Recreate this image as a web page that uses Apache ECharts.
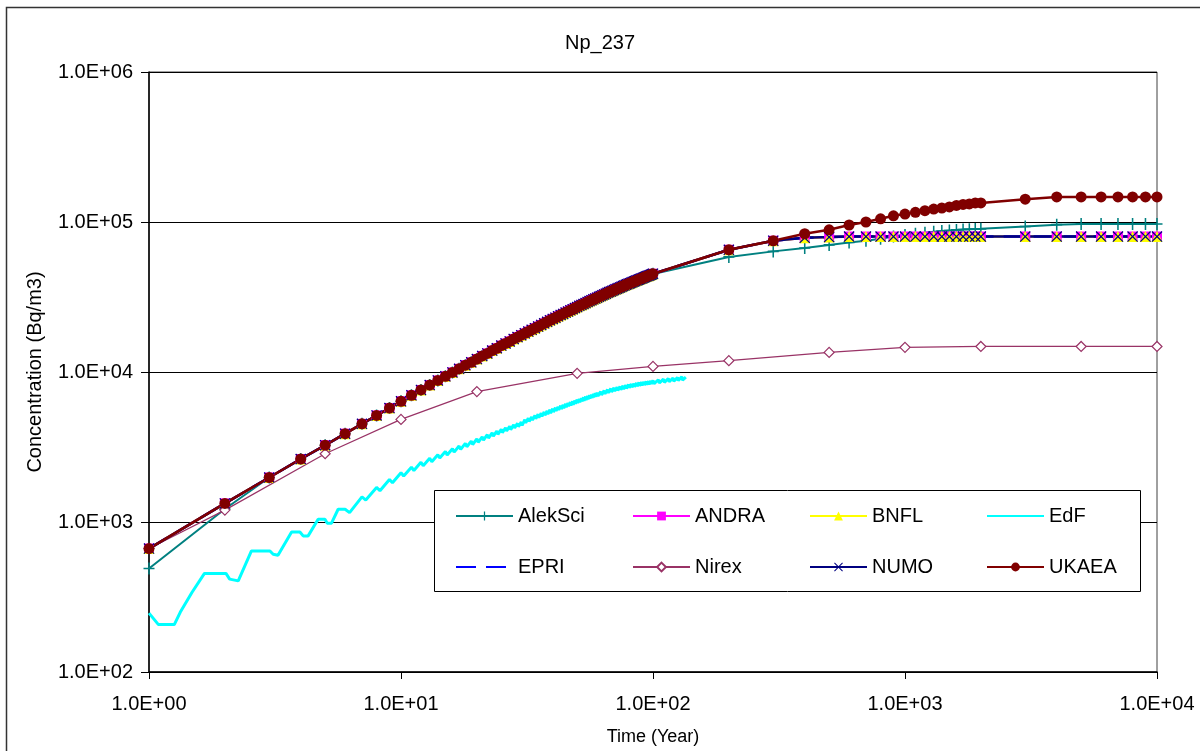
<!DOCTYPE html>
<html>
<head>
<meta charset="UTF-8">
<title>Np_237</title>
<script src="https://cdn.jsdelivr.net/npm/echarts@6/dist/echarts.min.js"></script>
<style>
  html, body { margin: 0; padding: 0; background: #fff; }
  #main { width: 1200px; height: 751px; }
</style>
</head>
<body>
<div id="main"></div>
<script type="text/javascript">
// time points (years) used by most models
var mainTime = [
  1, 2, 3, 4, 5, 6, 7, 8, 9, 10, 11, 12, 13, 14, 15, 16, 17, 18, 19, 20,
  21, 22, 23, 24, 25, 26, 27, 28, 29, 30, 31, 32, 33, 34, 35, 36, 37, 38, 39, 40,
  41, 42, 43, 44, 45, 46, 47, 48, 49, 50, 51, 52, 53, 54, 55, 56, 57, 58, 59, 60,
  61, 62, 63, 64, 65, 66, 67, 68, 69, 70, 71, 72, 73, 74, 75, 76, 77, 78, 79, 80,
  81, 82, 83, 84, 85, 86, 87, 88, 89, 90, 91, 92, 93, 94, 95, 96, 97, 98, 99, 100,
  200, 300, 400, 500, 600, 700, 800, 900, 1000,
  1100, 1200, 1300, 1400, 1500, 1600, 1700, 1800, 1900, 2000,
  3000, 4000, 5000, 6000, 7000, 8000, 9000, 10000
];

// first 100 years, where the curves lie on top of each other
var commonEarly = [
  665, 1330, 1980, 2630, 3250, 3880, 4510, 5130, 5750, 6380,
  6990, 7590, 8180, 8780, 9360, 9940, 10500, 11100, 11600, 12200,
  12800, 13300, 13900, 14400, 15000, 15500, 16000, 16600, 17100, 17600,
  18100, 18600, 19100, 19600, 20100, 20600, 21100, 21600, 22100, 22600,
  23000, 23500, 24000, 24400, 24900, 25300, 25800, 26200, 26700, 27100,
  27600, 28000, 28400, 28800, 29300, 29700, 30100, 30500, 30900, 31300,
  31700, 32100, 32500, 32900, 33300, 33700, 34100, 34400, 34800, 35200,
  35600, 35900, 36300, 36600, 37000, 37400, 37700, 38100, 38400, 38800,
  39100, 39400, 39800, 40100, 40400, 40800, 41100, 41400, 41700, 42000,
  42300, 42700, 43000, 43300, 43600, 43900, 44200, 44500, 44800, 45200
];
var alekSciEarly = [490, 1220];

// 200 .. 10000 years
var plateauTail = [
  65300, 75000, 78500, 79300, 80000, 80000, 80000, 80000, 80000,
  80000, 80000, 80000, 80000, 80000, 80000, 80000, 80000, 80000, 80000,
  80000, 80000, 80000, 80000, 80000, 80000, 80000, 80000
];
var ukaeaTail = [
  65300, 75000, 83500, 88700, 95500, 100000, 105000, 110000, 113000,
  116000, 119000, 122000, 124000, 126000, 129000, 131000, 132000, 134000, 134000,
  142000, 147000, 147000, 147000, 147000, 147000, 147000, 147000
];
var alekSciTail = [
  58500, 63700, 67100, 70300, 73100, 75000, 77400, 80000, 82000,
  83500, 84800, 86000, 87000, 87800, 88500, 89100, 89500, 89800, 90000,
  93300, 96000, 96800, 97000, 97000, 97000, 97000, 97000
];

var nirexTime = [1, 2, 5, 10, 20, 50, 100, 200, 500, 1000, 2000, 5000, 10000];
var nirexConc = [665, 1200, 2850, 4830, 7400, 9800, 10900, 11900, 13500, 14600, 14800, 14800, 14800];

// EdF: saw-tooth curve, ends near 135 years
var edfTime = [
  1, 1.09, 1.26, 1.33, 1.48, 1.66, 2.02, 2.09, 2.26, 2.55, 3.02, 3.11, 3.25,
  3.68, 3.97, 4.09, 4.28, 4.69, 4.99, 5.1, 5.3, 5.63, 6,
  6.25, 7, 7.25, 8, 8.25, 9, 9.25, 10, 10.25, 11, 11.25, 12, 12.25, 13, 13.25,
  14, 14.25, 15, 15.25, 16, 16.25, 17, 17.25, 18, 18.25, 19, 19.25, 20, 20.25,
  21, 21.25, 22, 22.25, 23, 23.25, 24, 24.25, 25, 25.25, 26, 26.25, 27, 27.25,
  28, 28.25, 29, 29.25, 30, 30.25,
  31, 31.25, 32, 32.25, 33, 33.25, 34, 34.25, 35, 35.25, 36, 36.25, 37, 37.25,
  38, 38.25, 39, 39.25, 40, 40.25, 41, 41.25, 42, 42.25, 43, 43.25, 44, 44.25,
  45, 45.25, 46, 46.25, 47, 47.25, 48, 48.25, 49, 49.25, 50, 50.25, 51, 51.25,
  52, 52.25, 53, 53.25, 54, 54.25, 55, 55.25, 56, 56.25, 57, 57.25, 58, 58.25,
  59, 59.25, 60, 60.5,
  62, 62.5, 64, 64.5, 66, 66.5, 68, 68.5, 70, 70.5, 72, 72.5, 74, 74.5, 76, 76.5,
  78, 78.5, 80, 80.5, 82, 82.5, 84, 84.5, 86, 86.5, 88, 88.5, 90, 90.5, 92, 92.5,
  94, 94.5, 96, 96.5, 98, 98.5, 100, 101,
  105, 106, 110, 111, 115, 116, 120, 121, 125, 126, 130, 131, 135
];
var edfConc = [
  247, 207, 207, 250, 339, 454, 454, 416, 405, 641, 641, 610, 601,
  858, 858, 808, 808, 1043, 1043, 982, 982, 1216, 1216,
  1155, 1470, 1400, 1700, 1615, 1920, 1825, 2130, 2025, 2320, 2205, 2500, 2375, 2660, 2525,
  2810, 2670, 2950, 2800, 3080, 2925, 3210, 3050, 3340, 3175, 3460, 3285, 3580, 3400,
  3700, 3515, 3820, 3630, 3930, 3735, 4040, 3840, 4150, 3945, 4250, 4040, 4350, 4130,
  4450, 4230, 4550, 4320, 4640, 4410,
  4820, 4580, 4920, 4680, 5020, 4780, 5130, 4880, 5230, 4970, 5320, 5060, 5410, 5150,
  5500, 5240, 5600, 5320, 5690, 5410, 5780, 5500, 5860, 5580, 5960, 5660, 6040, 5740,
  6130, 5830, 6210, 5910, 6290, 5990, 6380, 6060, 6460, 6140, 6540, 6220, 6610, 6290,
  6690, 6370, 6770, 6440, 6850, 6510, 6920, 6580, 6990, 6650, 7060, 6720, 7130, 6790,
  7210, 6850, 7280, 6920,
  7400, 7040, 7520, 7160, 7640, 7260, 7750, 7370, 7840, 7460, 7920, 7540, 8010, 7610, 8090, 7690,
  8170, 7770, 8250, 7850, 8310, 7910, 8370, 7970, 8450, 8030, 8510, 8090, 8560, 8140, 8600, 8180,
  8650, 8230, 8690, 8270, 8740, 8320, 8780, 8360,
  8880, 8440, 8970, 8530, 9050, 8610, 9120, 8680, 9200, 8760, 9300, 8840, 9250
];

function pairs(xs, ys) {
  var out = [];
  for (var i = 0; i < xs.length; i++) out.push([xs[i], ys[i]]);
  return out;
}

var andraConc = commonEarly.concat(plateauTail);
var bnflConc = commonEarly.concat(plateauTail);
var epriConc = commonEarly.concat(plateauTail);
var numoConc = commonEarly.concat(plateauTail);
var ukaeaConc = commonEarly.concat(ukaeaTail);
var alekSciConc = alekSciEarly.concat(commonEarly.slice(2), alekSciTail);

var FONT = "'Liberation Sans', Arial, sans-serif";
var PLUS = 'path://M4.3,0H5.7V4.3H10V5.7H5.7V10H4.3V5.7H0V4.3H4.3Z';
var CROSS = 'path://M0,0.8L0.8,0L5,4.2L9.2,0L10,0.8L5.8,5L10,9.2L9.2,10L5,5.8L0.8,10L0,9.2L4.2,5Z';

function expLabel(v) {
  var e = Math.round(Math.log10(v));
  return '1.0E+' + (e < 10 ? '0' + e : e);
}

var myChart = echarts.init(document.getElementById('main'));

var legendBase = {
  orient: 'vertical',
  top: 506,
  padding: 0,
  itemGap: 31,
  itemWidth: 57,
  itemHeight: 11,
  selectedMode: false,
  textStyle: { fontFamily: FONT, fontSize: 20, color: '#000', lineHeight: 20 }
};

var option = {
  animation: false,
  backgroundColor: '#fff',
  textStyle: { fontFamily: FONT },
  title: {
    text: 'Np_237',
    left: 'center',
    top: 28,
    textStyle: { fontFamily: FONT, fontSize: 20, fontWeight: 'normal', color: '#000' }
  },
  graphic: [
    {
      type: 'rect',
      shape: { x: 6.5, y: 7.5, width: 1300, height: 800 },
      style: { fill: 'none', stroke: '#333', lineWidth: 1.5 },
      silent: true
    },
    {
      type: 'rect',
      z: 3,
      shape: { x: 434.5, y: 490.5, width: 706, height: 101 },
      style: { fill: '#fff', stroke: '#000', lineWidth: 1 },
      silent: true
    }
  ],
  legend: [
    Object.assign({}, legendBase, { left: 455, data: ['AlekSci', 'EPRI'] }),
    Object.assign({}, legendBase, { left: 632, data: ['ANDRA', 'Nirex'] }),
    Object.assign({}, legendBase, { left: 809, data: ['BNFL', 'NUMO'] }),
    Object.assign({}, legendBase, { left: 986, data: ['EdF', 'UKAEA'] })
  ],
  grid: {
    left: 149, top: 72, width: 1008, height: 601,
    show: true, borderColor: '#404040', borderWidth: 1, backgroundColor: 'transparent'
  },
  xAxis: {
    type: 'log',
    logBase: 10,
    min: 1,
    max: 10000,
    name: 'Time (Year)',
    nameLocation: 'middle',
    nameGap: 56,
    nameTextStyle: { fontFamily: FONT, fontSize: 18, color: '#000' },
    axisLine: { lineStyle: { color: '#000', width: 1.5 } },
    axisTick: { length: 7, lineStyle: { color: '#000' } },
    axisLabel: { fontFamily: FONT, fontSize: 20, color: '#000', margin: 22, formatter: expLabel },
    splitLine: { show: false },
    minorTick: { show: false }
  },
  yAxis: {
    type: 'log',
    logBase: 10,
    min: 100,
    max: 1000000,
    name: 'Concentration (Bq/m3)',
    nameLocation: 'middle',
    nameRotate: 90,
    nameGap: 104,
    nameTextStyle: { fontFamily: FONT, fontSize: 20, color: '#000' },
    axisLine: { show: true, lineStyle: { color: '#000', width: 1.5 } },
    axisTick: { show: true, length: 8, lineStyle: { color: '#000' } },
    axisLabel: { fontFamily: FONT, fontSize: 20, color: '#000', margin: 16, formatter: expLabel },
    splitLine: { show: true, lineStyle: { color: '#000', width: 1 } }
  },
  series: [
    {
      name: 'AlekSci', type: 'line', clip: false,
      data: pairs(mainTime, alekSciConc),
      color: '#008080',
      symbol: PLUS, symbolSize: [11, 12],
      lineStyle: { width: 2, color: '#008080' },
      itemStyle: { color: '#008080' }
    },
    {
      name: 'ANDRA', type: 'line', clip: false,
      data: pairs(mainTime, andraConc),
      color: '#ff00ff',
      symbol: 'rect', symbolSize: 10,
      lineStyle: { width: 2.5, color: '#ff00ff' },
      itemStyle: { color: '#ff00ff' }
    },
    {
      name: 'BNFL', type: 'line', clip: false,
      data: pairs(mainTime, bnflConc),
      color: '#ffff00',
      symbol: 'triangle', symbolSize: 11,
      lineStyle: { width: 2.5, color: '#ffff00' },
      itemStyle: { color: '#ffff00' }
    },
    {
      name: 'EdF', type: 'line', clip: false,
      data: pairs(edfTime, edfConc),
      color: '#00ffff',
      symbol: 'circle', showSymbol: false,
      lineStyle: { width: 3, color: '#00ffff' },
      itemStyle: { color: 'rgba(0,0,0,0)' }
    },
    {
      name: 'EPRI', type: 'line', clip: false,
      data: pairs(mainTime, epriConc),
      color: '#0000ff',
      symbol: 'circle', showSymbol: false,
      lineStyle: { width: 2.5, color: '#0000ff', type: [20, 10] },
      itemStyle: { color: 'rgba(0,0,0,0)' }
    },
    {
      name: 'Nirex', type: 'line', clip: false,
      data: pairs(nirexTime, nirexConc),
      color: '#993366',
      symbol: 'diamond', symbolSize: 10,
      lineStyle: { width: 1.2, color: '#993366' },
      itemStyle: { color: '#fff', borderColor: '#993366', borderWidth: 1.2 }
    },
    {
      name: 'NUMO', type: 'line', clip: false,
      data: pairs(mainTime, numoConc),
      color: '#000080',
      symbol: CROSS, symbolSize: 11,
      lineStyle: { width: 2.5, color: '#000080' },
      itemStyle: { color: '#000080' }
    },
    {
      name: 'UKAEA', type: 'line', clip: false,
      data: pairs(mainTime, ukaeaConc),
      color: '#800000',
      symbol: 'circle', symbolSize: 11,
      lineStyle: { width: 2.5, color: '#800000' },
      itemStyle: { color: '#800000' }
    }
  ]
};

myChart.setOption(option);
</script>
</body>
</html>
